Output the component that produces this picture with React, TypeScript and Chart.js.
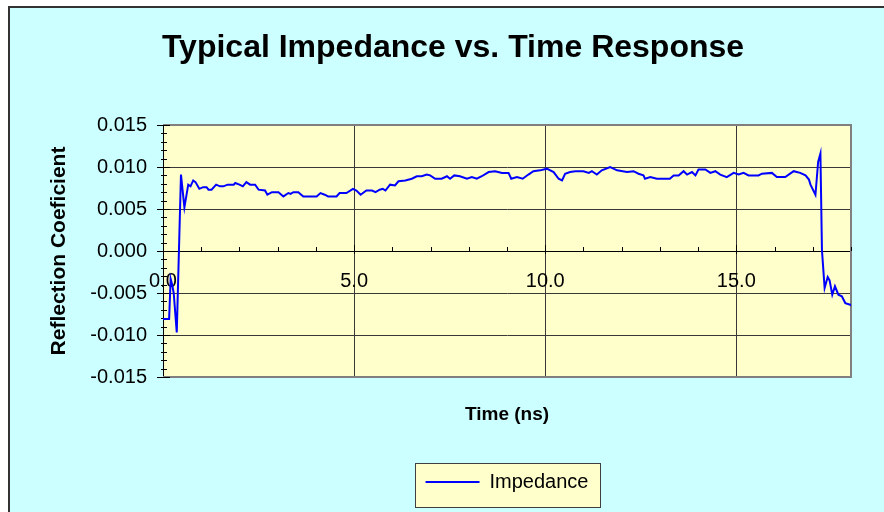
import React, { useEffect, useRef } from 'react';
import { Chart, registerables } from 'chart.js';

Chart.register(...registerables);

const chartTitle = 'Typical Impedance vs. Time Response';
const xAxisTitle = 'Time (ns)';
const yAxisTitle = 'Reflection Coeficient';
const seriesName = 'Impedance';

const xTicks = [0, 5, 10, 15];
const yTicks = [-0.015, -0.01, -0.005, 0, 0.005, 0.01, 0.015];

const timeNs = [
  0.0, 0.16, 0.2, 0.24, 0.28, 0.36, 0.47, 0.56, 0.66, 0.72, 0.79, 0.85, 0.95, 1.05, 1.14, 1.19,
  1.27, 1.39, 1.49, 1.58, 1.69, 1.85, 1.89, 2.0, 2.09, 2.18, 2.28, 2.41, 2.5, 2.67, 2.73, 2.85,
  3.02, 3.15, 3.28, 3.34, 3.41, 3.54, 3.67, 4.02, 4.12, 4.23, 4.32, 4.54, 4.62, 4.8, 4.97, 5.06,
  5.17, 5.32, 5.47, 5.56, 5.67, 5.75, 5.82, 5.94, 6.07, 6.16, 6.34, 6.51, 6.64, 6.77, 6.9, 6.99,
  7.12, 7.29, 7.43, 7.51, 7.62, 7.77, 7.95, 8.08, 8.21, 8.34, 8.52, 8.69, 8.87, 9.04, 9.11, 9.26,
  9.41, 9.56, 9.69, 9.87, 10.04, 10.22, 10.35, 10.44, 10.52, 10.65, 10.79, 11.0, 11.14, 11.22,
  11.35, 11.48, 11.7, 11.88, 12.14, 12.31, 12.44, 12.57, 12.61, 12.75, 12.92, 13.26, 13.36,
  13.49, 13.62, 13.71, 13.84, 13.93, 14.01, 14.19, 14.32, 14.45, 14.58, 14.75, 14.93, 15.06,
  15.19, 15.32, 15.58, 15.67, 15.93, 16.06, 16.28, 16.5, 16.67, 16.81, 16.9, 16.94, 17.07, 17.14,
  17.2, 17.24, 17.31, 17.39, 17.44, 17.51, 17.58, 17.67, 17.76, 17.85, 17.98, 18.05,
];

const reflection = [
  -0.0081, -0.0081, -0.0033, -0.004, -0.005, -0.0097, 0.0091, 0.0052, 0.0079, 0.0077, 0.0084,
  0.0082, 0.0074, 0.0076, 0.0076, 0.0073, 0.0073, 0.0079, 0.0077, 0.0077, 0.0079, 0.0079, 0.0081,
  0.0079, 0.0077, 0.0082, 0.0079, 0.0079, 0.0073, 0.0072, 0.0067, 0.007, 0.007, 0.0065, 0.0069,
  0.0068, 0.007, 0.007, 0.0065, 0.0065, 0.0069, 0.0067, 0.0065, 0.0065, 0.0069, 0.0069, 0.0074,
  0.0072, 0.0067, 0.0072, 0.0072, 0.007, 0.0073, 0.0074, 0.0072, 0.0079, 0.0078, 0.0083, 0.0084,
  0.0086, 0.0089, 0.0089, 0.0091, 0.009, 0.0086, 0.0086, 0.0089, 0.0086, 0.009, 0.0089, 0.0086,
  0.0088, 0.0086, 0.0089, 0.0094, 0.0095, 0.0093, 0.0093, 0.0086, 0.0088, 0.0086, 0.0091, 0.0095,
  0.0096, 0.0098, 0.0094, 0.0086, 0.0084, 0.0092, 0.0094, 0.0095, 0.0095, 0.0093, 0.0095, 0.0091,
  0.0096, 0.01, 0.0096, 0.0094, 0.0095, 0.0092, 0.009, 0.0086, 0.0088, 0.0086, 0.0086, 0.009,
  0.009, 0.0095, 0.0091, 0.0094, 0.009, 0.0097, 0.0097, 0.0093, 0.0095, 0.0091, 0.0088, 0.0093,
  0.0091, 0.0093, 0.009, 0.009, 0.0092, 0.0093, 0.0088, 0.0088, 0.0095, 0.0093, 0.009, 0.0085,
  0.0079, 0.0067, 0.0106, 0.0116, 0.0001, -0.0044, -0.0031, -0.0035, -0.0052, -0.0042, -0.0052,
  -0.0054, -0.0062, -0.0064, -0.0066,
];

const FONT = "'Liberation Sans', Arial, Helvetica, sans-serif";

const decorPlugin = {
  id: 'decor',
  beforeDraw(chart: any) {
    const { ctx, chartArea: a } = chart;
    ctx.save();
    ctx.fillStyle = '#FFFFCC';
    ctx.fillRect(a.left, a.top, a.right - a.left, a.bottom - a.top);
    const lg = chart.legend;
    if (lg && lg.legendHitBoxes && lg.legendHitBoxes.length) {
      const hb = lg.legendHitBoxes[0];
      const x0 = Math.round(hb.left - 11) + 0.5;
      const x1 = Math.round(hb.left + hb.width + 12) + 0.5;
      const y0 = Math.round(hb.top - 9) + 0.5;
      const y1 = Math.round(hb.top + 35) + 0.5;
      ctx.fillStyle = '#FFFFCC';
      ctx.fillRect(x0, y0, x1 - x0, y1 - y0);
      ctx.strokeStyle = '#404040';
      ctx.lineWidth = 1;
      ctx.strokeRect(x0, y0, x1 - x0, y1 - y0);
    }
    ctx.restore();
  },
  beforeDatasetsDraw(chart: any) {
    const { ctx, chartArea: a, scales } = chart;
    const xs = scales.x;
    const ys = scales.y;
    ctx.save();
    ctx.strokeStyle = '#808080';
    ctx.lineWidth = 2;
    ctx.beginPath();
    ctx.moveTo(a.left, a.top);
    ctx.lineTo(a.right, a.top);
    ctx.lineTo(a.right, a.bottom);
    ctx.lineTo(a.left, a.bottom);
    ctx.stroke();
    ctx.strokeStyle = '#000';
    ctx.lineWidth = 1;
    ctx.beginPath();
    const y0 = Math.round(ys.getPixelForValue(0));
    for (let i = 0; i <= 18; i++) {
      const px = Math.round(xs.getPixelForValue(i)) + 0.5;
      if (i % 5 === 0) {
        ctx.moveTo(px, y0 - 6);
        ctx.lineTo(px, y0 + 3);
      } else {
        ctx.moveTo(px, y0 - 4);
        ctx.lineTo(px, y0);
      }
    }
    const lx = Math.round(a.left);
    for (let k = -15; k <= 15; k++) {
      const py = Math.round(ys.getPixelForValue(k / 1000)) + 0.5;
      if (k % 5 === 0) {
        ctx.moveTo(lx - 6, py);
        ctx.lineTo(lx + 7, py);
      } else {
        ctx.moveTo(lx - 2, py);
        ctx.lineTo(lx + 4, py);
      }
    }
    ctx.stroke();
    ctx.restore();
  },
};

export default function App() {
  const ref = useRef<HTMLCanvasElement | null>(null);

  useEffect(() => {
    if (!ref.current) return;
    const points = timeNs.map((t, i) => ({ x: t, y: reflection[i] }));
    const chart = new Chart(ref.current, {
      type: 'line',
      data: {
        datasets: [
          {
            label: seriesName,
            data: points,
            borderColor: '#0000FF',
            backgroundColor: '#0000FF',
            borderWidth: 2,
            pointRadius: 0,
            tension: 0,
            fill: false,
          },
        ],
      },
      options: {
        animation: false,
        responsive: false,
        maintainAspectRatio: false,
        layout: { padding: { left: 45, right: 45, top: 0, bottom: 10 } },
        scales: {
          x: {
            type: 'linear',
            position: { y: 0 } as any,
            min: 0,
            max: 18,
            afterBuildTicks: (scale: any) => {
              scale.ticks = xTicks.map((v) => ({ value: v }));
            },
            ticks: {
              font: { family: FONT, size: 20 },
              color: '#000',
              padding: 18,
              maxRotation: 0,
              autoSkip: false,
              callback: (v: any) => Number(v).toFixed(1),
            },
            grid: { color: '#383838', lineWidth: 1, drawTicks: false },
            border: { display: true, color: '#000', width: 1 },
          },
          y: {
            type: 'linear',
            position: 'left',
            min: -0.015,
            max: 0.015,
            afterBuildTicks: (scale: any) => {
              scale.ticks = yTicks.map((v) => ({ value: v }));
            },
            afterFit: (scale: any) => {
              scale.width = 108;
            },
            ticks: {
              font: { family: FONT, size: 20 },
              color: '#000',
              padding: 16,
              autoSkip: false,
              callback: (v: any) => (Math.abs(Number(v)) < 1e-9 ? '0.000' : Number(v).toFixed(3)),
            },
            grid: { color: '#383838', lineWidth: 1, drawTicks: false },
            border: { display: true, color: '#000', width: 1 },
            title: {
              display: true,
              text: yAxisTitle,
              color: '#000',
              font: { family: FONT, size: 21, weight: 'bold' },
              padding: { top: -8.4, bottom: 0 },
            },
          },
        },
        plugins: {
          title: {
            display: true,
            text: chartTitle,
            color: '#000',
            font: { family: FONT, size: 32, weight: 'bold' },
            padding: { top: 21, bottom: 57.6 },
          },
          subtitle: {
            display: true,
            text: xAxisTitle,
            position: 'bottom',
            fullSize: false,
            weight: 500,
            color: '#000',
            font: { family: FONT, size: 19, weight: 'bold' },
            padding: { top: 26.6, bottom: 35.6 },
          },
          legend: {
            display: true,
            position: 'bottom',
            fullSize: false,
            labels: {
              usePointStyle: true,
              pointStyle: 'line',
              pointStyleWidth: 54,
              color: '#000',
              font: { family: FONT, size: 20 },
              padding: 10,
            },
          },
          tooltip: { enabled: false },
        },
      } as any,
      plugins: [decorPlugin],
    });
    return () => chart.destroy();
  }, []);

  return (
    <div
      style={{
        position: 'fixed',
        left: 8,
        top: 6,
        width: 876,
        height: 506,
        overflow: 'hidden',
        boxSizing: 'border-box',
        borderLeft: '2px solid #333',
        borderTop: '2px solid #333',
        background: '#CCFFFF',
      }}
    >
      <canvas ref={ref} width={886} height={504} style={{ display: 'block' }} />
    </div>
  );
}
